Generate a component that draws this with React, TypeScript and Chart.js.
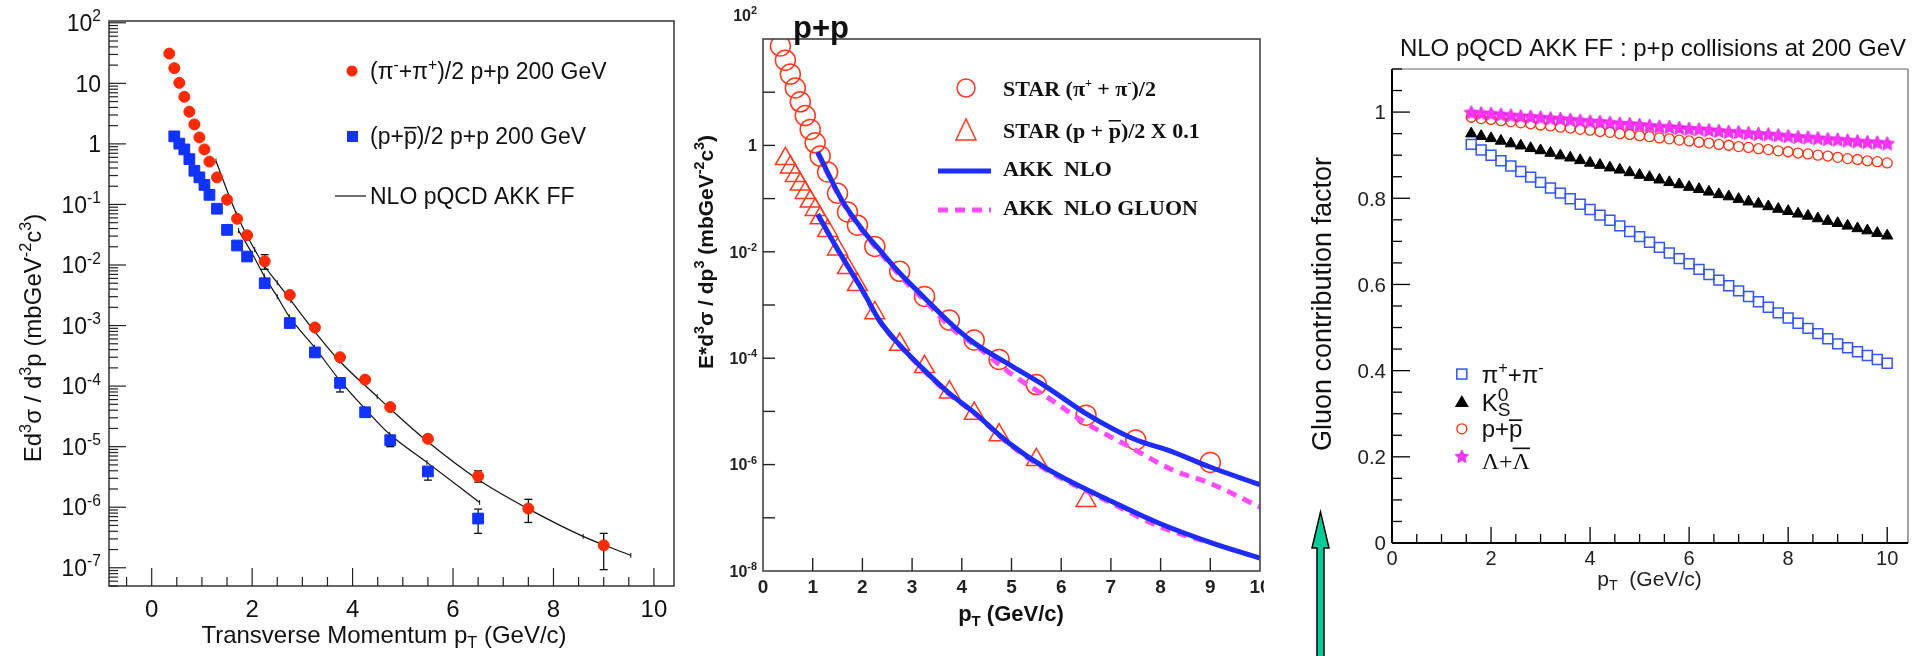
import React, { useEffect, useRef } from 'react';
import { Chart, registerables } from 'chart.js';
Chart.register(...registerables);

const W = 1923;
const H = 656;
const SANS = '"Liberation Sans", Arial, Helvetica, sans-serif';
const SERIF = '"Liberation Serif", "Times New Roman", serif';

// ---------------- Panel 1 : STAR spectra vs NLO ----------------
const p1PionPt = [0.35, 0.45, 0.55, 0.65, 0.75, 0.85, 0.95, 1.05, 1.15, 1.3, 1.5, 1.7, 1.9, 2.25, 2.75, 3.25, 3.75, 4.25, 4.75, 5.5, 6.5, 7.5, 9.0];
const p1PionVal = [31, 17.8, 10.2, 6.0, 3.4, 2.1, 1.28, 0.81, 0.51, 0.28, 0.12, 0.058, 0.031, 0.0115, 0.0032, 0.00093, 0.0003, 0.000128, 4.5e-5, 1.35e-5, 3.25e-6, 9.5e-7, 2.35e-7];
const p1ProtPt = [0.45, 0.55, 0.65, 0.75, 0.85, 0.95, 1.05, 1.15, 1.3, 1.5, 1.7, 1.9, 2.25, 2.75, 3.25, 3.75, 4.25, 4.75, 5.5, 6.5];
const p1ProtVal = [1.33, 1.01, 0.81, 0.56, 0.36, 0.28, 0.21, 0.144, 0.085, 0.038, 0.021, 0.0138, 0.005, 0.0011, 0.00036, 0.000113, 3.7e-5, 1.28e-5, 3.9e-6, 6.5e-7];
const p1PionErrPt = [2.25, 6.5, 7.5, 9.0];
const p1PionErrLo = [0.0085, 2.6e-6, 5.6e-7, 9.3e-8];
const p1PionErrHi = [0.0148, 4.0e-6, 1.35e-6, 3.7e-7];
const p1ProtErrPt = [3.75, 4.75, 5.5, 6.5];
const p1ProtErrLo = [8e-5, 1.0e-5, 2.8e-6, 3.7e-7];
const p1ProtErrHi = [1.3e-4, 1.5e-5, 4.6e-6, 9.3e-7];
const p1NloPionPt = [1.28, 1.69, 2.05, 2.24, 2.5, 2.77, 3.24, 3.74, 4.49, 4.74, 5.48, 6.49, 7.51, 8.59, 9.54];
const p1NloPionVal = [0.52, 0.069, 0.018, 0.0098, 0.0051, 0.0026, 8.1e-4, 2.6e-4, 6.7e-5, 4.3e-5, 1.24e-5, 2.9e-6, 9.3e-7, 3.3e-7, 1.6e-7];
const p1NloProtPt = [1.73, 2.0, 2.24, 2.5, 2.74, 3.24, 3.74, 4.24, 4.74, 5.48, 6.53];
const p1NloProtVal = [0.037, 0.0155, 0.0066, 0.003, 0.0014, 4.4e-4, 1.26e-4, 4.3e-5, 1.6e-5, 5.5e-6, 1.2e-6];

// ---------------- Panel 2 : p+p, AKK NLO ----------------
const p2PionPt = [0.35, 0.45, 0.55, 0.65, 0.75, 0.85, 0.95, 1.05, 1.15, 1.3, 1.5, 1.7, 1.9, 2.25, 2.75, 3.25, 3.75, 4.25, 4.75, 5.5, 6.5, 7.5, 9.0];
const p2PionVal = [74, 40, 21.9, 12, 6.6, 3.63, 2.0, 1.12, 0.63, 0.316, 0.126, 0.056, 0.0316, 0.0126, 0.0043, 0.00145, 5.2e-4, 2.2e-4, 9.5e-5, 3.2e-5, 8.5e-6, 2.9e-6, 1.1e-6];
const p2ProtPt = [0.45, 0.55, 0.65, 0.75, 0.85, 0.95, 1.05, 1.15, 1.3, 1.5, 1.7, 1.9, 2.25, 2.75, 3.25, 3.75, 4.25, 4.75, 5.5, 6.5];
const p2ProtVal = [0.56, 0.39, 0.27, 0.186, 0.129, 0.089, 0.062, 0.043, 0.025, 0.0112, 0.005, 0.0024, 7.1e-4, 1.8e-4, 6.9e-5, 2.3e-5, 9.1e-6, 3.6e-6, 1.23e-6, 2.1e-7];
const p2NloPionPt = [1.1, 1.6, 2.0, 2.35, 2.75, 3.22, 3.89, 4.26, 5.03, 5.7, 6.5, 7.44, 8.24, 8.98, 10];
const p2NloPionVal = [0.75, 0.089, 0.026, 0.0107, 0.004, 0.00145, 3.6e-4, 1.9e-4, 6.9e-5, 2.9e-5, 9.1e-6, 3.1e-6, 1.74e-6, 9.1e-7, 4.2e-7];
const p2GluPionPt = [1.1, 1.6, 2.0, 2.35, 2.75, 3.22, 3.89, 4.3, 5.03, 5.7, 6.5, 7.44, 8.24, 8.98, 10];
const p2GluPionVal = [0.72, 0.085, 0.025, 0.0098, 0.0036, 0.0013, 3.1e-4, 1.66e-4, 4.8e-5, 1.9e-5, 6.0e-6, 2.0e-6, 7.9e-7, 4.5e-7, 1.6e-7];
const p2NloProtPt = [1.1, 1.5, 2.0, 2.35, 2.72, 3.22, 3.72, 4.22, 4.96, 5.7, 7.03, 7.97, 8.98, 10];
const p2NloProtVal = [0.051, 0.0112, 0.0019, 5.0e-4, 1.9e-4, 6.3e-5, 2.3e-5, 1.0e-5, 2.5e-6, 8.5e-7, 2.0e-7, 7.9e-8, 3.5e-8, 1.74e-8];
const p2GluProtPt = [1.1, 1.5, 2.0, 2.35, 2.72, 3.22, 3.72, 4.22, 4.96, 5.7, 7.03, 7.97, 8.98];
const p2GluProtVal = [0.05, 0.011, 0.00185, 4.9e-4, 1.85e-4, 6.1e-5, 2.2e-5, 9.8e-6, 2.4e-6, 8.0e-7, 1.85e-7, 6.9e-8, 3.4e-8];

// ---------------- Panel 3 : gluon contribution factor ----------------
const p3Pt = [1.6, 1.8, 2.0, 2.2, 2.4, 2.6, 2.8, 3.0, 3.2, 3.4, 3.6, 3.8, 4.0, 4.2, 4.4, 4.6, 4.8, 5.0, 5.2, 5.4, 5.6, 5.8, 6.0, 6.2, 6.4, 6.6, 6.8, 7.0, 7.2, 7.4, 7.6, 7.8, 8.0, 8.2, 8.4, 8.6, 8.8, 9.0, 9.2, 9.4, 9.6, 9.8, 10.0];
const p3Pion = [0.925, 0.912, 0.900, 0.887, 0.875, 0.862, 0.849, 0.837, 0.824, 0.812, 0.799, 0.786, 0.774, 0.761, 0.749, 0.736, 0.723, 0.711, 0.698, 0.686, 0.673, 0.660, 0.648, 0.635, 0.623, 0.610, 0.597, 0.585, 0.572, 0.560, 0.547, 0.534, 0.522, 0.510, 0.498, 0.486, 0.474, 0.462, 0.453, 0.444, 0.435, 0.426, 0.417];
const p3Kaon = [0.950, 0.944, 0.939, 0.933, 0.927, 0.922, 0.916, 0.911, 0.905, 0.899, 0.894, 0.888, 0.882, 0.877, 0.871, 0.866, 0.860, 0.854, 0.849, 0.843, 0.837, 0.832, 0.826, 0.821, 0.815, 0.809, 0.804, 0.798, 0.792, 0.787, 0.781, 0.775, 0.770, 0.764, 0.759, 0.753, 0.747, 0.742, 0.736, 0.730, 0.725, 0.719, 0.713];
const p3Proton = [0.988, 0.985, 0.983, 0.980, 0.978, 0.975, 0.973, 0.970, 0.968, 0.965, 0.963, 0.960, 0.958, 0.955, 0.953, 0.950, 0.948, 0.945, 0.943, 0.940, 0.938, 0.935, 0.933, 0.930, 0.928, 0.925, 0.923, 0.920, 0.918, 0.915, 0.913, 0.910, 0.908, 0.905, 0.903, 0.900, 0.898, 0.895, 0.892, 0.890, 0.887, 0.885, 0.882];
const p3Lambda = [0.998, 0.996, 0.995, 0.993, 0.991, 0.989, 0.988, 0.986, 0.984, 0.983, 0.981, 0.979, 0.977, 0.976, 0.974, 0.972, 0.971, 0.969, 0.967, 0.965, 0.964, 0.962, 0.960, 0.959, 0.957, 0.955, 0.953, 0.952, 0.950, 0.948, 0.947, 0.945, 0.943, 0.941, 0.940, 0.938, 0.936, 0.935, 0.933, 0.931, 0.929, 0.928, 0.926];

const pts = (xs: number[], ys: number[]) => xs.map((x, i) => ({ x, y: ys[i] }));

// ---------------- rich text helper ----------------
type Seg = { t?: string; sup?: string; sub?: string; over?: number };
type RO = { fam?: string; wt?: string; color?: string; align?: 'left' | 'center' | 'right'; rot?: number; supK?: number };

function richWidth(ctx: CanvasRenderingContext2D, segs: Seg[], size: number, o: RO) {
  const fam = o.fam || SANS, wt = o.wt || 'normal', k = o.supK || 0.68;
  let w = 0;
  for (const s of segs) {
    if (s.t !== undefined) {
      ctx.font = `${wt} ${size}px ${fam}`;
      w += ctx.measureText(s.t).width;
    } else {
      ctx.font = `${wt} ${size * k}px ${fam}`;
      w += Math.max(s.sup ? ctx.measureText(s.sup).width : 0, s.sub ? ctx.measureText(s.sub).width : 0);
    }
  }
  return w;
}

function drawRich(ctx: CanvasRenderingContext2D, segs: Seg[], x: number, y: number, size: number, o: RO = {}) {
  const fam = o.fam || SANS, wt = o.wt || 'normal', k = o.supK || 0.68;
  ctx.save();
  ctx.translate(x, y);
  if (o.rot) ctx.rotate(o.rot);
  const w = richWidth(ctx, segs, size, o);
  let cx = o.align === 'center' ? -w / 2 : o.align === 'right' ? -w : 0;
  const base = size * 0.36;
  ctx.fillStyle = o.color || '#000';
  ctx.strokeStyle = o.color || '#000';
  ctx.textAlign = 'left';
  ctx.textBaseline = 'alphabetic';
  for (const s of segs) {
    if (s.t !== undefined) {
      ctx.font = `${wt} ${size}px ${fam}`;
      const tw = ctx.measureText(s.t).width;
      ctx.fillText(s.t, cx, base);
      if (s.over) {
        ctx.lineWidth = Math.max(1.2, size * 0.07);
        ctx.beginPath();
        ctx.moveTo(cx, base - size * s.over);
        ctx.lineTo(cx + tw, base - size * s.over);
        ctx.stroke();
      }
      cx += tw;
    } else {
      ctx.font = `${wt} ${size * k}px ${fam}`;
      let ww = 0;
      if (s.sup) { ctx.fillText(s.sup, cx, base - size * 0.42); ww = ctx.measureText(s.sup).width; }
      if (s.sub) { ctx.fillText(s.sub, cx, base + size * 0.22); ww = Math.max(ww, ctx.measureText(s.sub).width); }
      cx += ww;
    }
  }
  ctx.restore();
}

function tenPow(e: number): Seg[] {
  if (e === 0) return [{ t: '1' }];
  if (e === 1) return [{ t: '10' }];
  return [{ t: '10' }, { sup: String(e) }];
}

function line(ctx: CanvasRenderingContext2D, x1: number, y1: number, x2: number, y2: number) {
  ctx.beginPath();
  ctx.moveTo(x1, y1);
  ctx.lineTo(x2, y2);
  ctx.stroke();
}

function makeStar(r: number, color: string) {
  const c = document.createElement('canvas');
  const s = Math.ceil(r * 2 + 2);
  c.width = s; c.height = s;
  const g = c.getContext('2d')!;
  g.fillStyle = color;
  g.strokeStyle = '#d020d0';
  g.lineWidth = 0.8;
  g.beginPath();
  for (let i = 0; i < 10; i++) {
    const a = -Math.PI / 2 + (i * Math.PI) / 5;
    const rr = i % 2 === 0 ? r : r * 0.5;
    const px = s / 2 + rr * Math.cos(a), py = s / 2 + rr * Math.sin(a);
    if (i === 0) g.moveTo(px, py); else g.lineTo(px, py);
  }
  g.closePath();
  g.fill();
  g.stroke();
  return c;
}

const baseOpts = (pad: any, scales: any) => ({
  animation: false as const,
  responsive: false,
  events: [] as any[],
  layout: { padding: pad },
  plugins: { legend: { display: false }, tooltip: { enabled: false }, title: { display: false } },
  scales,
});

// ---------------- Panel 1 drawing ----------------
function drawPanel1(chart: any) {
  const ctx: CanvasRenderingContext2D = chart.ctx;
  const a = chart.chartArea;
  const xs = chart.scales.x, ys = chart.scales.y;
  ctx.save();
  ctx.strokeStyle = '#333';
  ctx.lineWidth = 1.5;
  ctx.strokeRect(a.left, a.top, a.right - a.left, a.bottom - a.top);
  ctx.lineWidth = 1.2;
  ctx.strokeStyle = '#222';
  for (let e = -8; e <= 2; e++) {
    for (let m = 1; m <= 9; m++) {
      const v = m * Math.pow(10, e);
      if (v < ys.min || v > ys.max) continue;
      const y = ys.getPixelForValue(v);
      line(ctx, a.left, y, a.left + (m === 1 ? 17 : 9), y);
    }
  }
  for (let e = -7; e <= 2; e++) {
    drawRich(ctx, tenPow(e), a.left - 8, ys.getPixelForValue(Math.pow(10, e)), 23, { align: 'right', color: '#111' });
  }
  for (let k = -1; k <= 20; k++) {
    const v = k / 2;
    const x = xs.getPixelForValue(v);
    line(ctx, x, a.bottom, x, a.bottom - (k % 4 === 0 ? 18 : 9));
    if (k % 4 === 0) drawRich(ctx, [{ t: String(v) }], x, a.bottom + 22, 24, { align: 'center', color: '#111' });
  }
  drawRich(ctx, [{ t: 'Transverse Momentum p' }, { sub: 'T' }, { t: ' (GeV/c)' }], 384, 634, 24, { align: 'center', color: '#111' });
  drawRich(ctx, [{ t: 'Ed' }, { sup: '3' }, { t: 'σ / d' }, { sup: '3' }, { t: 'p (mbGeV' }, { sup: '-2' }, { t: 'c' }, { sup: '3' }, { t: ')' }], 32, 338, 24, { align: 'center', rot: -Math.PI / 2, color: '#111' });
  // legend
  ctx.fillStyle = '#ff2a00';
  ctx.beginPath(); ctx.arc(352, 71, 5.5, 0, Math.PI * 2); ctx.fill();
  ctx.fillStyle = '#1133ff';
  ctx.fillRect(347, 131, 11, 11);
  ctx.strokeStyle = '#111'; ctx.lineWidth = 1.2;
  line(ctx, 335, 196, 366, 196);
  drawRich(ctx, [{ t: '(π' }, { sup: '-' }, { t: '+π' }, { sup: '+' }, { t: ')/2 p+p 200 GeV' }], 370, 71, 23, { color: '#111' });
  drawRich(ctx, [{ t: '(p+' }, { t: 'p', over: 0.72 }, { t: ')/2 p+p 200 GeV' }], 370, 136, 23, { color: '#111' });
  drawRich(ctx, [{ t: 'NLO pQCD AKK FF' }], 370, 196, 23, { color: '#111' });
  ctx.restore();
}

function drawErrors(chart: any, ptsX: number[], lo: number[], hi: number[]) {
  const ctx: CanvasRenderingContext2D = chart.ctx;
  const xs = chart.scales.x, ys = chart.scales.y;
  ctx.save();
  ctx.strokeStyle = '#111';
  ctx.lineWidth = 1.3;
  ptsX.forEach((p, i) => {
    const x = xs.getPixelForValue(p);
    const y1 = ys.getPixelForValue(lo[i]), y2 = ys.getPixelForValue(hi[i]);
    line(ctx, x, y1, x, y2);
    line(ctx, x - 4, y1, x + 4, y1);
    line(ctx, x - 4, y2, x + 4, y2);
  });
  ctx.restore();
}

// ---------------- Panel 2 drawing ----------------
function drawPanel2(chart: any) {
  const ctx: CanvasRenderingContext2D = chart.ctx;
  const a = chart.chartArea;
  const xs = chart.scales.x, ys = chart.scales.y;
  ctx.save();
  ctx.strokeStyle = '#444';
  ctx.lineWidth = 1.6;
  ctx.strokeRect(a.left, a.top, a.right - a.left, a.bottom - a.top);
  ctx.strokeStyle = '#222';
  ctx.lineWidth = 1.4;
  for (let v = 0; v <= 10; v++) {
    const x = xs.getPixelForValue(v);
    if (v > 0 && v < 10) line(ctx, x, a.bottom, x, a.bottom - 13);
    ctx.save();
    ctx.beginPath();
    ctx.rect(0, 0, a.right + 4, H);
    ctx.clip();
    drawRich(ctx, [{ t: String(v) }], x, a.bottom + 15, 19, { align: 'center', wt: 'bold', color: '#222' });
    ctx.restore();
  }
  for (let e = -8; e <= 2; e++) {
    const y = ys.getPixelForValue(Math.pow(10, e));
    if (e > -8 && e < 2) line(ctx, a.left, y, a.left + 12, y);
    if (e % 2 === 0) drawRich(ctx, tenPow(e), a.left - 6, e === 2 ? y - 24 : y, 16, { align: 'right', wt: 'bold', color: '#222' });
  }
  drawRich(ctx, [{ t: 'p' }, { sub: 'T' }, { t: ' (GeV/c)' }], 1011, 613, 22, { align: 'center', wt: 'bold', color: '#111' });
  drawRich(ctx, [{ t: 'E*d' }, { sup: '3' }, { t: 'σ / dp' }, { sup: '3' }, { t: ' (mbGeV' }, { sup: '-2' }, { t: 'c' }, { sup: '3' }, { t: ')' }], 705, 252, 21, { align: 'center', wt: 'bold', rot: -Math.PI / 2, color: '#111' });
  drawRich(ctx, [{ t: 'p+p' }], 821, 27, 31, { align: 'center', wt: 'bold', color: '#111' });
  // legend
  ctx.strokeStyle = '#ff3a20'; ctx.lineWidth = 1.5;
  ctx.beginPath(); ctx.arc(966, 88, 9, 0, Math.PI * 2); ctx.stroke();
  ctx.beginPath(); ctx.moveTo(966, 119); ctx.lineTo(976, 140); ctx.lineTo(956, 140); ctx.closePath(); ctx.stroke();
  ctx.strokeStyle = '#1f2cff'; ctx.lineWidth = 5;
  line(ctx, 938, 171, 991, 171);
  ctx.strokeStyle = '#ff4dff'; ctx.setLineDash([10, 7]);
  line(ctx, 938, 210, 991, 210);
  ctx.setLineDash([]);
  const o: RO = { fam: SERIF, wt: 'bold', color: '#111', supK: 0.55 };
  drawRich(ctx, [{ t: 'STAR (π' }, { sup: '+' }, { t: ' + π' }, { sup: '-' }, { t: ')/2' }], 1003, 88, 22, o);
  drawRich(ctx, [{ t: 'STAR (p + ' }, { t: 'p', over: 0.78 }, { t: ')/2 X 0.1' }], 1003, 130, 22, o);
  drawRich(ctx, [{ t: 'AKK  NLO' }], 1003, 168, 22, o);
  drawRich(ctx, [{ t: 'AKK  NLO GLUON' }], 1003, 207, 22, o);
  ctx.restore();
}

// ---------------- Panel 3 drawing ----------------
function drawPanel3(chart: any, star: HTMLCanvasElement) {
  const ctx: CanvasRenderingContext2D = chart.ctx;
  const a = chart.chartArea;
  const xs = chart.scales.x, ys = chart.scales.y;
  ctx.save();
  ctx.strokeStyle = '#666'; ctx.lineWidth = 1.2;
  line(ctx, a.left, a.top, a.right, a.top);
  line(ctx, a.right, a.top, a.right, a.bottom);
  ctx.strokeStyle = '#000'; ctx.lineWidth = 2;
  line(ctx, a.left, a.top, a.left, a.bottom);
  line(ctx, a.left, a.bottom, a.right, a.bottom);
  ctx.lineWidth = 1.3;
  for (let k = 0; k <= 22; k++) {
    const v = k * 0.05;
    const y = ys.getPixelForValue(v);
    const major = k % 4 === 0;
    if (k > 0) line(ctx, a.left, y, a.left + (major ? 18 : 10), y);
    if (major && v <= 1.0001) {
      const lab = k === 0 ? '0' : k === 20 ? '1' : (v).toFixed(1);
      drawRich(ctx, [{ t: lab }], a.left - 6, y, 20.5, { align: 'right', color: '#222' });
    }
  }
  for (let k = 0; k <= 20; k++) {
    const v = k * 0.5;
    const x = xs.getPixelForValue(v);
    const major = k % 4 === 0;
    if (k > 0) line(ctx, x, a.bottom, x, a.bottom - (major ? 16 : 9));
    if (major) drawRich(ctx, [{ t: String(v) }], x, a.bottom + 15, 20, { align: 'center', color: '#222' });
  }
  drawRich(ctx, [{ t: 'p' }, { sub: 'T' }, { t: '  (GeV/c)' }], xs.getPixelForValue(5.2), a.bottom + 35, 21, { align: 'center', color: '#222' });
  drawRich(ctx, [{ t: 'NLO pQCD AKK FF : p+p collisions at 200 GeV' }], 1653, 47, 24, { align: 'center', color: '#111' });
  drawRich(ctx, [{ t: 'Gluon contribution factor' }], 1321, 304, 27, { align: 'center', rot: -Math.PI / 2, color: '#111' });
  // legend
  const lx = xs.getPixelForValue(1.41), tx = xs.getPixelForValue(1.81);
  const ly = [0.392, 0.327, 0.265, 0.2].map((v) => ys.getPixelForValue(v));
  ctx.strokeStyle = '#3355ff'; ctx.lineWidth = 1.5;
  ctx.strokeRect(lx - 5, ly[0] - 5, 10, 10);
  ctx.fillStyle = '#000';
  ctx.beginPath(); ctx.moveTo(lx, ly[1] - 7); ctx.lineTo(lx + 7, ly[1] + 5); ctx.lineTo(lx - 7, ly[1] + 5); ctx.closePath(); ctx.fill();
  ctx.strokeStyle = '#ff3311'; ctx.lineWidth = 1.3;
  ctx.beginPath(); ctx.arc(lx, ly[2], 5, 0, Math.PI * 2); ctx.stroke();
  ctx.drawImage(star, lx - star.width / 2, ly[3] - star.height / 2);
  drawRich(ctx, [{ t: 'π' }, { sup: '+' }, { t: '+π' }, { sup: '-' }], tx, ly[0], 24, { color: '#111' });
  drawRich(ctx, [{ t: 'K' }, { sup: '0', sub: 'S' }], tx, ly[1], 24, { color: '#111', supK: 0.8 });
  drawRich(ctx, [{ t: 'p+' }, { t: 'p', over: 0.72 }], tx, ly[2], 24, { color: '#111' });
  drawRich(ctx, [{ t: 'Λ+' }, { t: 'Λ', over: 0.88 }], tx, ly[3] + 4, 24, { color: '#111', fam: SERIF });
  // arrow annotation
  ctx.fillStyle = '#00cc99'; ctx.strokeStyle = '#000'; ctx.lineWidth = 1.5;
  ctx.beginPath();
  ctx.moveTo(1320.5, 512);
  ctx.lineTo(1329, 548);
  ctx.lineTo(1324, 548);
  ctx.lineTo(1324, 660);
  ctx.lineTo(1317, 660);
  ctx.lineTo(1317, 548);
  ctx.lineTo(1312, 548);
  ctx.closePath();
  ctx.fill();
  ctx.stroke();
  ctx.restore();
}

export default function App() {
  const c1 = useRef<HTMLCanvasElement>(null);
  const c2 = useRef<HTMLCanvasElement>(null);
  const c3 = useRef<HTMLCanvasElement>(null);

  useEffect(() => {
    const star = makeStar(7.5, '#ff33ff');
    const starLeg = makeStar(7, '#ff33ff');

    const ch1 = new Chart(c1.current!, {
      type: 'scatter',
      data: {
        datasets: [
          { data: pts(p1PionPt, p1PionVal), pointStyle: 'circle', pointRadius: 5.5, backgroundColor: '#ff2a00', borderColor: '#ff2a00', borderWidth: 1, order: 0 } as any,
          { data: pts(p1ProtPt, p1ProtVal), pointStyle: 'rect', pointRadius: 7.6, backgroundColor: '#1133ff', borderColor: '#1133ff', borderWidth: 1, order: 1 },
          { data: pts(p1NloPionPt, p1NloPionVal), showLine: true, borderColor: '#111', borderWidth: 1.2, cubicInterpolationMode: 'monotone', pointStyle: 'line', rotation: 90, pointRadius: 2.5, pointBorderWidth: 1, pointBorderColor: '#111', order: 2 },
          { data: pts(p1NloProtPt, p1NloProtVal), showLine: true, borderColor: '#111', borderWidth: 1.2, cubicInterpolationMode: 'monotone', pointStyle: 'line', rotation: 90, pointRadius: 2.5, pointBorderWidth: 1, pointBorderColor: '#111', order: 3 },
        ],
      },
      options: baseOpts({ left: 109, top: 21, right: W - 674, bottom: H - 586 }, {
        x: { type: 'linear', min: -0.85, max: 10.4, display: false },
        y: { type: 'logarithmic', min: 5e-8, max: 107, display: false },
      }) as any,
      plugins: [{
        id: 'p1',
        beforeDatasetsDraw: (c: any) => { drawErrors(c, p1PionErrPt, p1PionErrLo, p1PionErrHi); drawErrors(c, p1ProtErrPt, p1ProtErrLo, p1ProtErrHi); },
        afterDraw: (c: any) => drawPanel1(c),
      }],
    });

    const ch2 = new Chart(c2.current!, {
      type: 'scatter',
      data: {
        datasets: [
          { data: pts(p2NloPionPt, p2NloPionVal), showLine: true, borderColor: '#1f2cff', borderWidth: 5, pointRadius: 0, cubicInterpolationMode: 'monotone', order: 0 } as any,
          { data: pts(p2NloProtPt, p2NloProtVal), showLine: true, borderColor: '#1f2cff', borderWidth: 5, pointRadius: 0, cubicInterpolationMode: 'monotone', order: 1 },
          { data: pts(p2GluPionPt, p2GluPionVal), showLine: true, borderColor: '#ff4dff', borderWidth: 5, borderDash: [10, 7], pointRadius: 0, cubicInterpolationMode: 'monotone', order: 2 },
          { data: pts(p2GluProtPt, p2GluProtVal), showLine: true, borderColor: '#ff4dff', borderWidth: 5, borderDash: [10, 7], pointRadius: 0, cubicInterpolationMode: 'monotone', order: 3 },
          { data: pts(p2PionPt, p2PionVal), pointStyle: 'circle', pointRadius: 10, backgroundColor: 'rgba(0,0,0,0)', borderColor: '#ff3a20', borderWidth: 1.5, order: 4 },
          { data: pts(p2ProtPt, p2ProtVal), pointStyle: 'triangle', pointRadius: 11.5, backgroundColor: 'rgba(0,0,0,0)', borderColor: '#ff3a20', borderWidth: 1.5, order: 5 },
        ],
      },
      options: baseOpts({ left: 763, top: 39, right: W - 1260, bottom: H - 571 }, {
        x: { type: 'linear', min: 0, max: 10, display: false },
        y: { type: 'logarithmic', min: 1e-8, max: 100, display: false },
      }) as any,
      plugins: [{ id: 'p2', afterDraw: (c: any) => drawPanel2(c) }],
    });

    const ch3 = new Chart(c3.current!, {
      type: 'scatter',
      data: {
        datasets: [
          { data: pts(p3Pt, p3Lambda), pointStyle: star, order: 0 } as any,
          { data: pts(p3Pt, p3Pion), pointStyle: 'rect', pointRadius: 7, backgroundColor: 'rgba(0,0,0,0)', borderColor: '#3355ff', borderWidth: 1.5, order: 1 },
          { data: pts(p3Pt, p3Proton), pointStyle: 'circle', pointRadius: 5, backgroundColor: 'rgba(0,0,0,0)', borderColor: '#ff3311', borderWidth: 1.3, order: 2 },
          { data: pts(p3Pt, p3Kaon), pointStyle: 'triangle', pointRadius: 6.5, backgroundColor: '#000', borderColor: '#000', borderWidth: 1, order: 3 },
        ],
      },
      options: baseOpts({ left: 1392, top: 69, right: W - 1908, bottom: H - 543 }, {
        x: { type: 'linear', min: 0, max: 10.42, display: false },
        y: { type: 'linear', min: 0, max: 1.1, display: false },
      }) as any,
      plugins: [{ id: 'p3', afterDraw: (c: any) => drawPanel3(c, starLeg) }],
    });

    return () => { ch1.destroy(); ch2.destroy(); ch3.destroy(); };
  }, []);

  const cs: React.CSSProperties = { position: 'absolute', left: 0, top: 0, width: W, height: H };
  return (
    <div style={{ position: 'fixed', left: 0, top: 0, width: W, height: H, background: '#fff', overflow: 'hidden' }}>
      <canvas ref={c1} width={W} height={H} style={cs} />
      <canvas ref={c2} width={W} height={H} style={cs} />
      <canvas ref={c3} width={W} height={H} style={cs} />
    </div>
  );
}
